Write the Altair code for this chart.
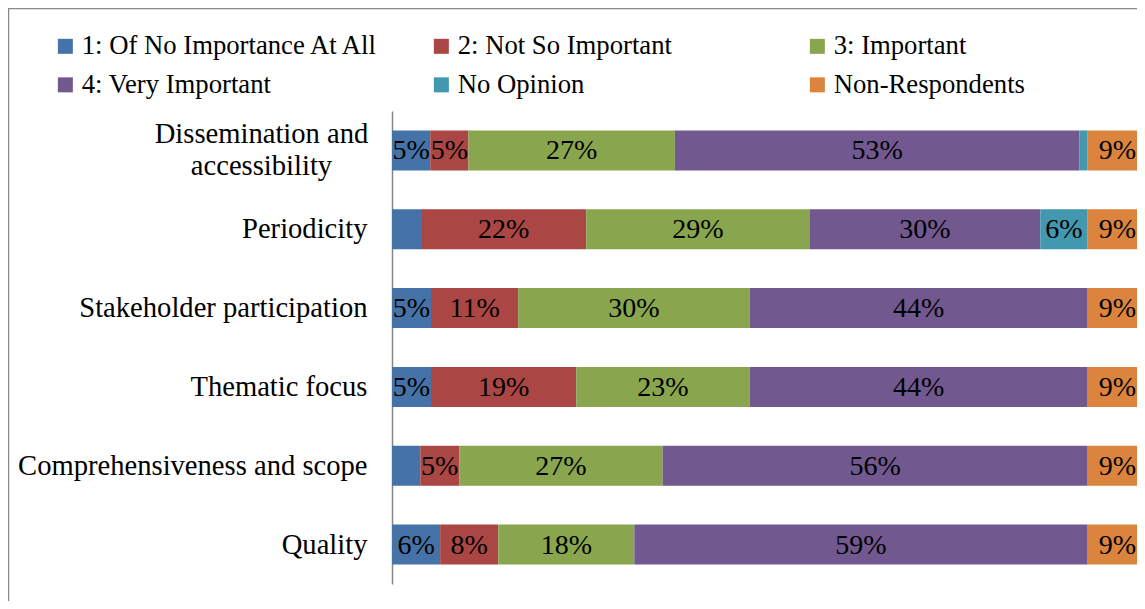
import altair as alt
import pandas as pd

categories = [
    "Dissemination and accessibility",
    "Periodicity",
    "Stakeholder participation",
    "Thematic focus",
    "Comprehensiveness and scope",
    "Quality",
]
series = [
    "1: Of No Importance At All",
    "2: Not So Important",
    "3: Important",
    "4: Very Important",
    "No Opinion",
    "Non-Respondents",
]
colors = ["#4572A7", "#AA4643", "#89A54E", "#71588F", "#4198AF", "#DB843D"]

no_importance = [5.0, 3.8, 5.1, 5.1, 3.7, 6.3]
not_so_important = [5.0, 21.6, 11.4, 19.0, 5.1, 7.6]
important = [27.0, 29.2, 30.3, 22.7, 26.6, 17.8]
very_important = [52.9, 30.2, 44.2, 44.2, 55.6, 59.3]
no_opinion = [1.1, 6.2, 0.0, 0.0, 0.0, 0.0]
non_respondents = [9.0, 9.0, 9.0, 9.0, 9.0, 9.0]

all_series = [no_importance, not_so_important, important, very_important, no_opinion, non_respondents]

rows = []
for si, (name, vals) in enumerate(zip(series, all_series)):
    for ci, cat in enumerate(categories):
        rows.append({"category": cat, "series": name, "order": si, "value": vals[ci]})
df = pd.DataFrame(rows)

FONT = "Liberation Serif"
X_MAX = 97.45  # visible part of the 0-100 % axis (the reference is cropped at the right)
TWO_LINE = "Dissemination and accessibility"
label_expr = (
    "datum.label == '" + TWO_LINE + "' ? ['Dissemination and', 'accessibility'] : datum.label"
)
is_two = "datum.value == '" + TWO_LINE + "'"

xscale = alt.Scale(domain=[0, X_MAX], clamp=True, nice=False, zero=True)
yenc = alt.Y(
    "category:N",
    sort=categories,
    scale=alt.Scale(paddingInner=0.493, paddingOuter=0.2465),
    axis=alt.Axis(
        title=None,
        ticks=False,
        domainColor="#868686",
        domainWidth=1.5,
        labelFont=FONT,
        labelFontSize=28.6,
        labelColor="#000000",
        labelPadding={"condition": {"test": is_two, "value": 131}, "value": 25},
        labelAlign={"condition": {"test": is_two, "value": "center"}, "value": "right"},
        labelOffset={"condition": {"test": is_two, "value": -16}, "value": 0},
        labelLimit=500,
        labelLineHeight=32,
        labelExpr=label_expr,
    ),
)

base = alt.Chart(df).transform_stack(
    stack="value",
    groupby=["category"],
    as_=["v0", "v1"],
    sort=[alt.SortField("order", order="ascending")],
).transform_calculate(
    mid="min((datum.v0 + datum.v1) / 2, " + str(X_MAX) + " - 2.55)"
)

bars = base.mark_bar().encode(
    x=alt.X("v0:Q", scale=xscale, axis=None),
    x2="v1:Q",
    y=yenc,
    color=alt.Color(
        "series:N",
        scale=alt.Scale(domain=series, range=colors),
        legend=alt.Legend(
            title=None,
            orient="none",
            direction="horizontal",
            legendX=-340,
            legendY=-78.5,
            columns=3,
            gridAlign="all",
            columnPadding=49,
            rowPadding=11,
            symbolType="square",
            symbolSize=225,
            symbolStrokeWidth=0,
            labelFont=FONT,
            labelFontSize=26.7,
            labelColor="#000000",
            labelOffset=3,
            labelLimit=500,
        ),
    ),
    order=alt.Order("order:Q"),
)

text = base.transform_filter("datum.value >= 4.5").transform_calculate(
    label="format(datum.value, '.0f') + '%'"
).mark_text(
    font=FONT, fontSize=28, color="#000000", baseline="middle", align="center", dy=1
).encode(
    x=alt.X("mid:Q", scale=xscale, axis=None),
    y=yenc,
    text=alt.Text("label:N"),
)

border = alt.Chart(alt.Data(values=[{"k": 1}])).mark_rect(
    fill="#ffffff", fillOpacity=0, stroke="#898989", strokeWidth=1.5
).encode(
    x=alt.value(-383.5),
    x2=alt.value(1000),
    y=alt.value(-102.5),
    y2=alt.value(700),
)

chart = alt.layer(border, bars, text).properties(
    width=745,
    height=473,
    padding={"left": 384, "top": 103, "right": 0, "bottom": 17},
    autosize="none",
    background="#ffffff",
).configure_view(stroke=None)

chart.save("out.html", embed_options={"renderer": "svg", "actions": False})
